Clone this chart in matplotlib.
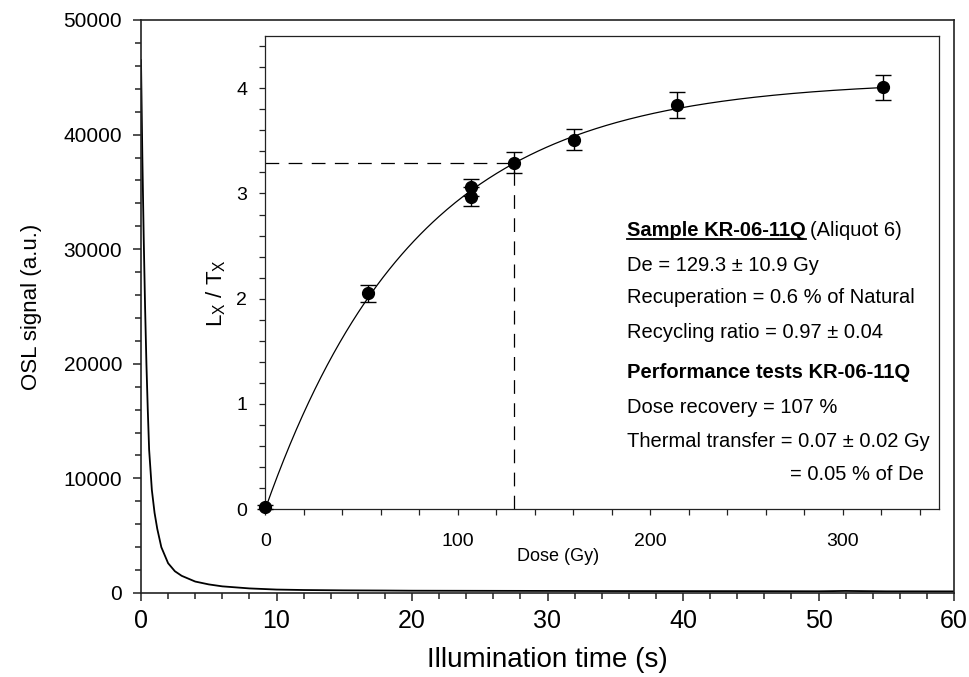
import numpy as np
import matplotlib
matplotlib.use("Agg")
import matplotlib.pyplot as plt
from matplotlib.lines import Line2D
from matplotlib.ticker import MultipleLocator

plt.rcParams['font.family'] = ['Liberation Sans', 'DejaVu Sans']
plt.rcParams['mathtext.fontset'] = 'custom'
plt.rcParams['mathtext.rm'] = 'Liberation Sans'

# OSL decay curve (illumination time in s, signal in a.u.)
time_s = [0, 0.1, 0.2, 0.3, 0.4, 0.5, 0.6, 0.8, 1.0, 1.2, 1.5, 2.0, 2.5, 3.0,
          4.0, 5.0, 6.0, 8.0, 10, 12, 15, 18, 20, 25, 30, 35, 40, 45, 50, 52, 55, 60]
osl_signal = [46500, 38000, 31000, 25000, 20000, 16000, 12500, 9000, 7000, 5600,
              4000, 2600, 1900, 1500, 1000, 750, 580, 400, 300, 260, 230, 215, 200,
              190, 180, 170, 165, 160, 150, 180, 145, 140]

# dose response (regenerated points)
dose_gy = [0, 53.5, 107, 107, 160.5, 214, 321]
lx_tx = [0.02, 2.05, 3.06, 2.97, 3.51, 3.84, 4.01]
lx_tx_err = [0.02, 0.08, 0.08, 0.09, 0.1, 0.12, 0.12]

# natural signal interpolated on the curve
de_gy = 129.3
ln_tn = 3.29
ln_tn_err = 0.1

info_lines = ["De = 129.3 \u00b1 10.9 Gy",
              "Recuperation = 0.6 % of Natural",
              "Recycling ratio = 0.97 \u00b1 0.04"]
perf_lines = ["Dose recovery = 107 %",
              "Thermal transfer = 0.07 \u00b1 0.02 Gy"]

W, H = 970, 677
fig = plt.figure(figsize=(W / 100, H / 100), dpi=100)

# main axes
ax = fig.add_axes([141 / W, 1 - 593 / H, (954 - 141) / W, (593 - 20) / H])
ax.plot(time_s, osl_signal, color='black', lw=1.3)
ax.set_xlim(0, 60)
ax.set_ylim(0, 50000)
ax.xaxis.set_major_locator(MultipleLocator(10))
ax.xaxis.set_minor_locator(MultipleLocator(2))
ax.yaxis.set_major_locator(MultipleLocator(10000))
ax.yaxis.set_minor_locator(MultipleLocator(2000))
ax.tick_params(which='both', direction='out', width=1.1, color='#222222')
ax.tick_params(which='major', length=5.5)
ax.tick_params(which='minor', length=4.5)
ax.tick_params(axis='y', labelsize=15, pad=8)
ax.tick_params(axis='x', labelsize=18, pad=6)
for sp in ax.spines.values():
    sp.set_linewidth(1.2)
    sp.set_color('#222222')
ax.set_xlabel('Illumination time (s)', fontsize=20)
ax.xaxis.set_label_coords(0.5, -0.095)
ax.set_ylabel('OSL signal (a.u.)', fontsize=16)
ax.yaxis.set_label_coords(-0.122, 0.5)

# inset: dose response curve
ax_in = fig.add_axes([265.3 / W, 1 - 509 / H, (939 - 265.3) / W, (509 - 35.7) / H])
ax_in.set_facecolor('white')

# fit a saturating exponential to the regenerated points
xd = np.array(dose_gy)
yd = np.array(lx_tx)
best = None
for d0 in np.arange(20, 300, 0.1):
    b = 1 - np.exp(-xd / d0)
    a = (b @ yd) / (b @ b)
    sse = ((a * b - yd) ** 2).sum()
    if best is None or sse < best[0]:
        best = (sse, a, d0)
_, fit_a, fit_d0 = best
xf = np.linspace(0, max(dose_gy), 300)
ax_in.plot(xf, fit_a * (1 - np.exp(-xf / fit_d0)), color='black', lw=0.9)

ax_in.plot([0, de_gy], [ln_tn, ln_tn], color='black', lw=0.9, dashes=(11, 7.5))
ax_in.plot([de_gy, de_gy], [0, ln_tn], color='black', lw=0.9, dashes=(11, 7.5))

ax_in.errorbar(dose_gy, lx_tx, yerr=lx_tx_err, fmt='o', color='black', ms=8.5,
               capsize=6, elinewidth=1.0, capthick=1.0, clip_on=False, zorder=5)
ax_in.errorbar([de_gy], [ln_tn], yerr=[ln_tn_err], fmt='o', color='black', ms=8.5,
               capsize=6, elinewidth=1.0, capthick=1.0, zorder=5)

ax_in.set_xlim(0, 350)
ax_in.set_ylim(0, 4.5)
ax_in.xaxis.set_major_locator(MultipleLocator(100))
ax_in.xaxis.set_minor_locator(MultipleLocator(20))
ax_in.yaxis.set_major_locator(MultipleLocator(1))
ax_in.yaxis.set_minor_locator(MultipleLocator(0.2))
ax_in.tick_params(which='both', direction='out', length=4, width=0.9,
                  labelsize=14, color='#222222')
ax_in.tick_params(axis='x', pad=13)
ax_in.tick_params(axis='y', pad=9)
for sp in ax_in.spines.values():
    sp.set_linewidth(0.9)
    sp.set_color('#222222')
ax_in.set_xlabel('Dose (Gy)', fontsize=13)
ax_in.xaxis.set_label_coords(0.434, -0.082)
ax_in.set_ylabel(r'L$_\mathregular{X}$ / T$_\mathregular{X}$', fontsize=16)
ax_in.yaxis.set_label_coords(-0.056, 0.456)

# annotation text block
fs = 14.5
x0 = 627 / W
t1 = fig.text(x0, 1 - 235.5 / H, 'Sample KR-06-11Q', fontsize=fs,
              fontweight='bold', va='baseline')
for txt, yb in zip(info_lines, [270.7, 303.3, 338.3]):
    fig.text(x0, 1 - yb / H, txt, fontsize=fs, va='baseline')
fig.text(x0, 1 - 377.7 / H, 'Performance tests KR-06-11Q', fontsize=fs,
         fontweight='bold', va='baseline')
for txt, yb in zip(perf_lines, [413.3, 446.7]):
    fig.text(x0, 1 - yb / H, txt, fontsize=fs, va='baseline')
fig.text(790 / W, 1 - 480 / H, '= 0.05 % of De', fontsize=fs, va='baseline')

fig.canvas.draw()
bb = t1.get_window_extent(fig.canvas.get_renderer())
fig.add_artist(Line2D([bb.x0 / W, bb.x1 / W], [1 - 238.5 / H, 1 - 238.5 / H],
                      color='black', lw=1.3))
fig.text(bb.x1 / W + 4 / W, 1 - 235.5 / H, '(Aliquot 6)', fontsize=fs,
         va='baseline')

fig.savefig('out.png', dpi=100)
